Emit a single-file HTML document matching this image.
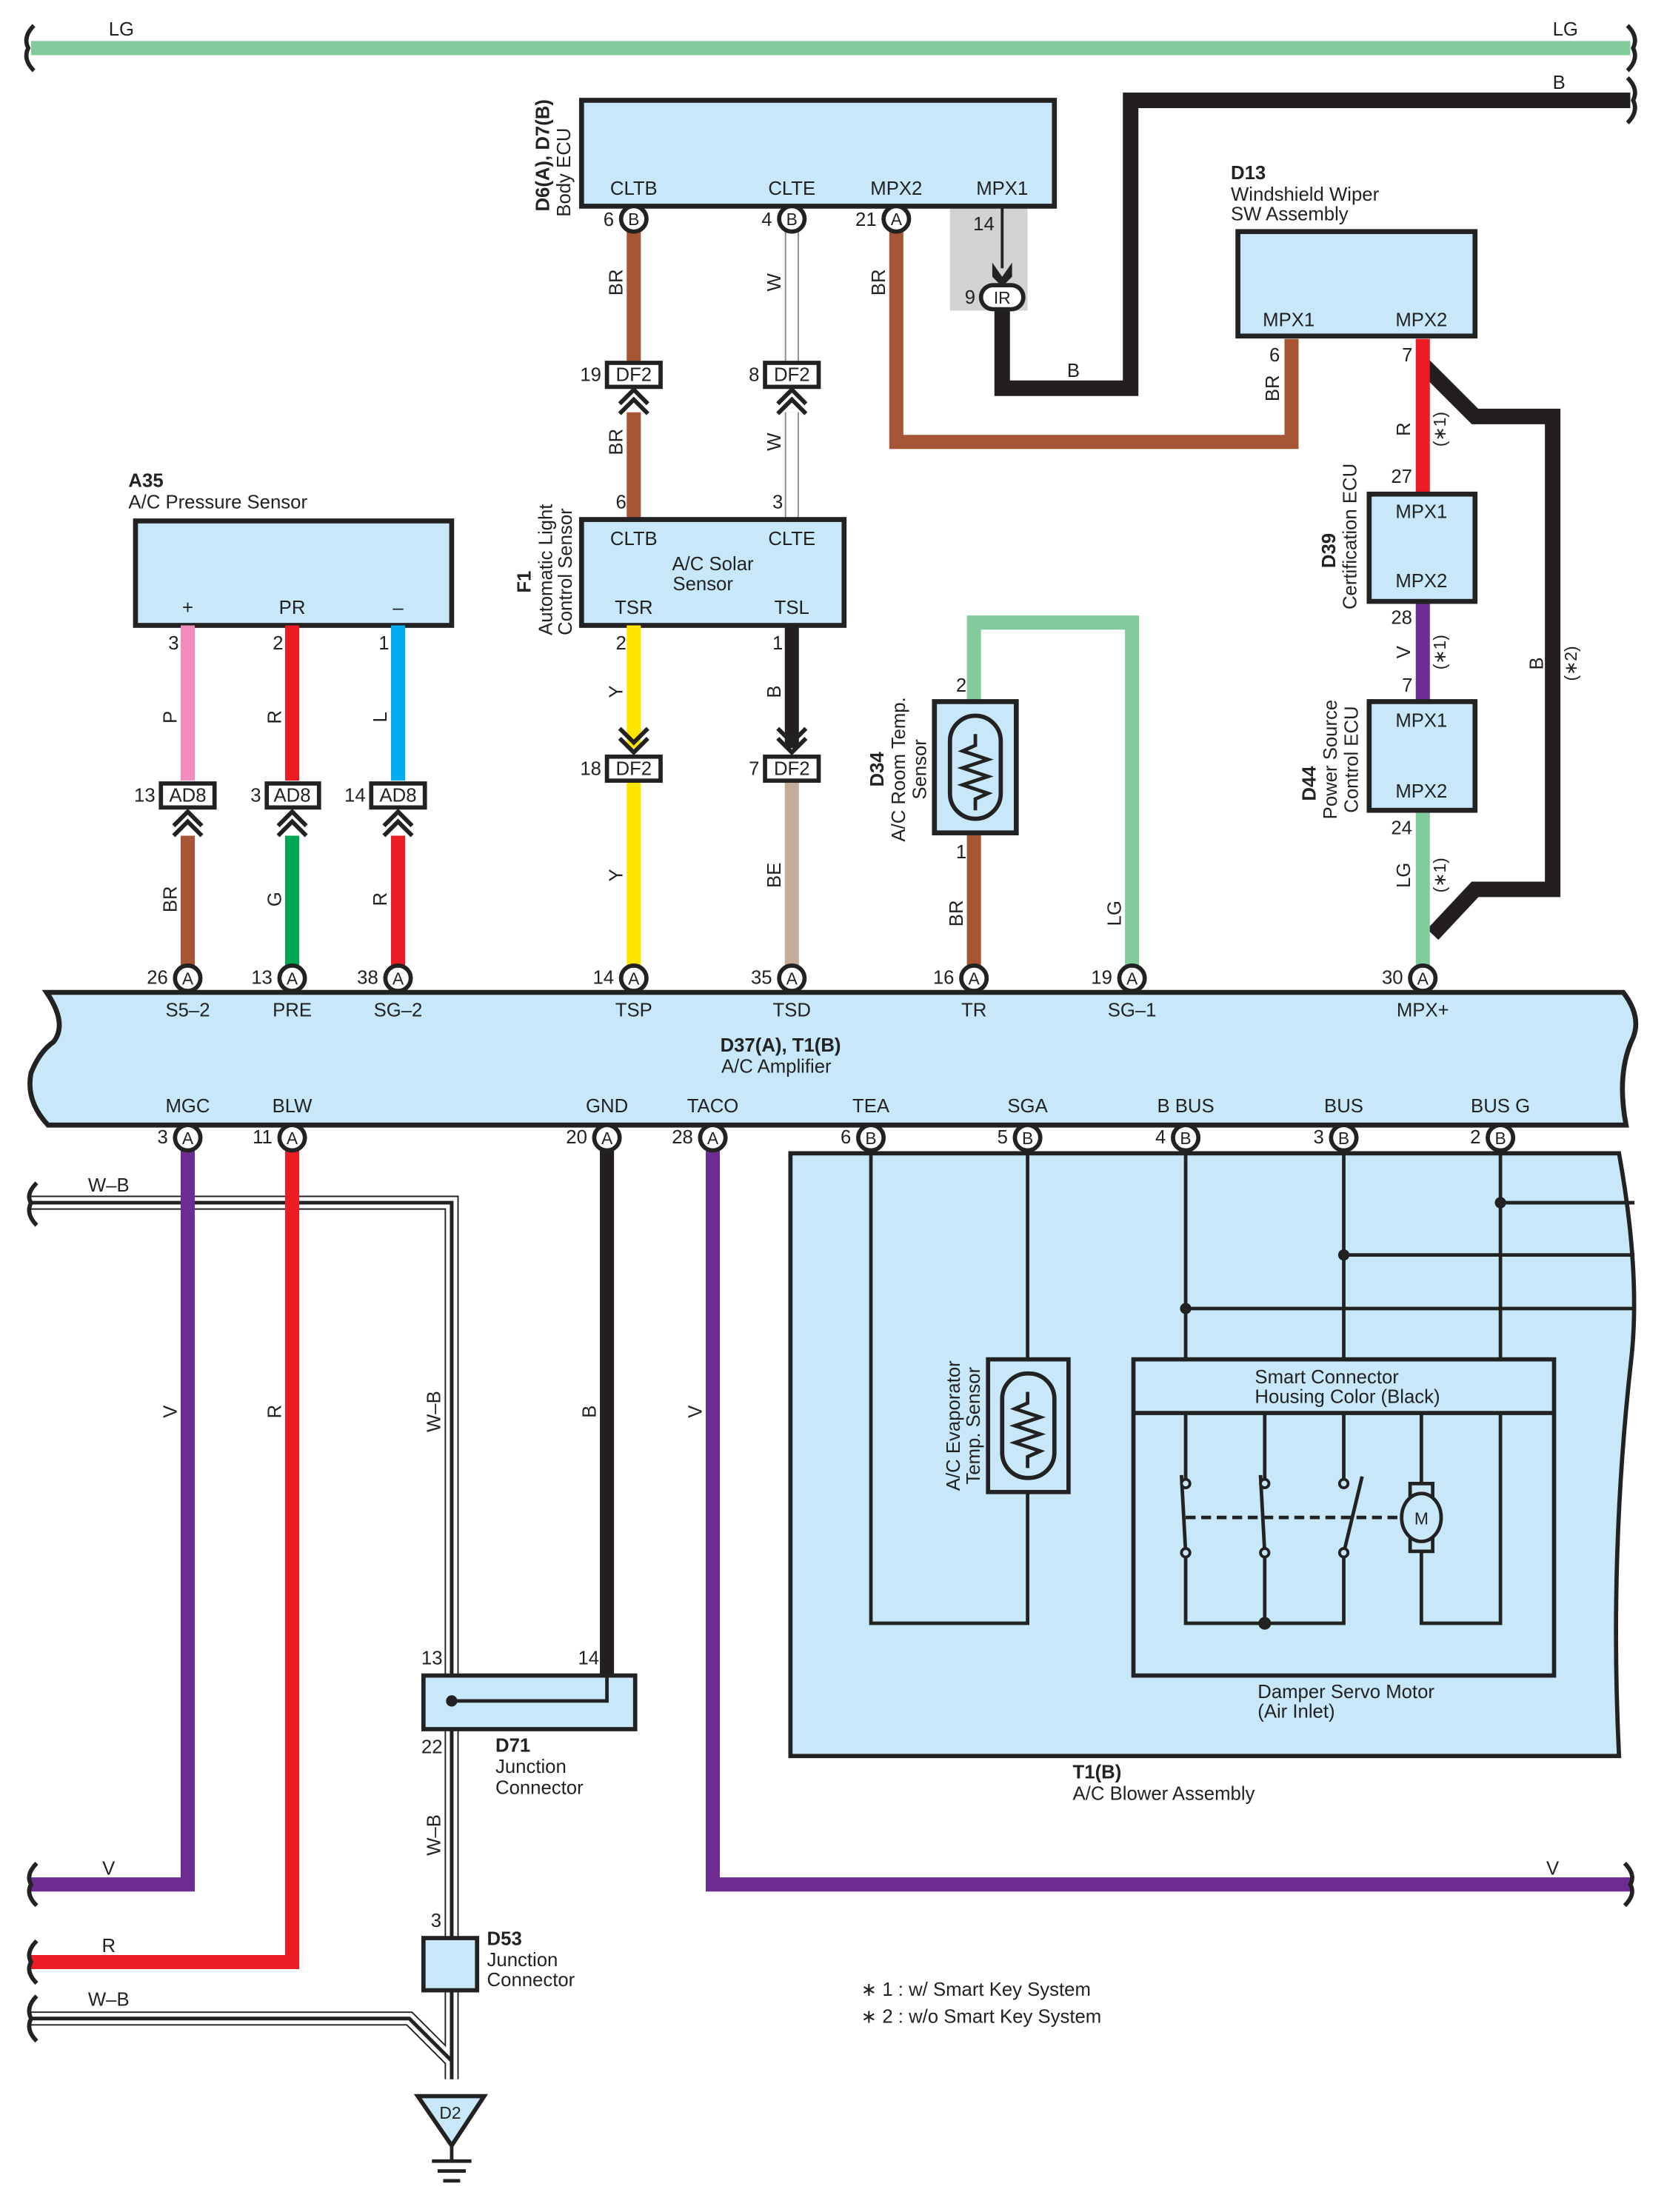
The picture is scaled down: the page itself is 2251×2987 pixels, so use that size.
<!DOCTYPE html>
<html><head><meta charset="utf-8"><style>
html,body{margin:0;padding:0;background:#fff}
svg{display:block}
text{font-family:"Liberation Sans",sans-serif;font-size:13.5px;fill:#222}
.b{font-weight:bold}
.m{text-anchor:middle}
.e{text-anchor:end}
</style></head><body>
<svg width="2251" height="2987" viewBox="0 0 1181 1567" xmlns="http://www.w3.org/2000/svg">
<defs>
<g id="pA"><circle r="9" fill="#fff" stroke="#222" stroke-width="3"/><text y="4.5" class="m" style="font-size:12px">A</text></g>
<g id="pB"><circle r="9" fill="#fff" stroke="#222" stroke-width="3"/><text y="4.5" class="m" style="font-size:12px">B</text></g>
<g id="chevUp" fill="none" stroke="#222" stroke-width="3"><path d="M-10,12 L0,2 L10,12"/><path d="M-10,19 L0,9 L10,19"/></g>
<g id="chevDn" fill="none" stroke="#222" stroke-width="3"><path d="M-10,-12 L0,-2 L10,-12"/><path d="M-10,-19 L0,-9 L10,-19"/></g>
</defs>
<g fill="none" stroke-linejoin="miter">
<!-- LG top -->
<path d="M22,34 H1155" stroke="#82cb9c" stroke-width="10"/>
<path d="M24,18 Q16,26 20,34 Q16,42 24,50" stroke="#222" stroke-width="3"/>
<path d="M1153,18 Q1161,26 1157,34 Q1161,42 1153,50" stroke="#222" stroke-width="3"/>
<!-- B black top -->
<path d="M710,214 V275 H801 V71 H1155" stroke="#231f20" stroke-width="11"/>
<path d="M1153,55 Q1161,63 1157,71 Q1161,79 1153,87" stroke="#222" stroke-width="3"/>
</g>
<text x="77" y="25">LG</text><text x="1100" y="25">LG</text>
<text x="1100" y="63">B</text><text x="756" y="267">B</text>
<!-- Body ECU -->
<rect x="673" y="146" width="55" height="74" fill="#d1d2d4"/>
<rect x="412" y="71" width="335" height="75" fill="#c8e8f9" stroke="#222" stroke-width="3.5"/>
<text x="449" y="138" class="m">CLTB</text><text x="561" y="138" class="m">CLTE</text><text x="635" y="138" class="m">MPX2</text><text x="710" y="138" class="m">MPX1</text>
<text transform="translate(389,110) rotate(-90)" class="b m">D6(A), D7(B)</text>
<text transform="translate(404,122) rotate(-90)" class="m">Body ECU</text>
<path d="M710,146 V190" stroke="#222" stroke-width="2"/>
<path d="M703,186 L710,196 L717,186 L717,196 L710,203 L703,196Z" fill="#222"/>
<rect x="695" y="202" width="30" height="17" rx="8.5" fill="#fff" stroke="#222" stroke-width="3"/>
<text x="710" y="215" class="m" style="font-size:12px">IR</text>
<text x="697" y="163" class="m">14</text><text x="691" y="215" class="e">9</text>
<!-- wires from body ECU -->
<g fill="none">
<path d="M449,163 V258 M449,292 V368" stroke="#a65634" stroke-width="10"/>
<path d="M561,163 V258 M561,292 V368" stroke="#8a8a8a" stroke-width="10"/>
<path d="M561,163 V258 M561,292 V368" stroke="#fff" stroke-width="8"/>
<path d="M635,163 V313 H915 V240" stroke="#a65634" stroke-width="10"/>
</g>
<use href="#pB" x="449" y="155"/><use href="#pB" x="561" y="155"/><use href="#pA" x="635" y="155"/>
<text x="435" y="160" class="e">6</text><text x="547" y="160" class="e">4</text><text x="621" y="160" class="e">21</text>
<text transform="translate(441,200) rotate(-90)" class="m">BR</text>
<text transform="translate(553,200) rotate(-90)" class="m">W</text>
<text transform="translate(627,200) rotate(-90)" class="m">BR</text>
<text transform="translate(441,313) rotate(-90)" class="m">BR</text>
<text transform="translate(553,313) rotate(-90)" class="m">W</text>
<rect x="430" y="257" width="38" height="17" fill="#fff" stroke="#222" stroke-width="3"/><text x="449" y="270" class="m">DF2</text>
<rect x="542" y="257" width="38" height="17" fill="#fff" stroke="#222" stroke-width="3"/><text x="561" y="270" class="m">DF2</text>
<use href="#chevUp" x="449" y="274"/><use href="#chevUp" x="561" y="274"/>
<text x="426" y="270" class="e">19</text><text x="538" y="270" class="e">8</text>
<text x="440" y="360" class="m">6</text><text x="551" y="360" class="m">3</text>
<!-- Solar sensor F1 -->
<rect x="412" y="368" width="186" height="75" fill="#c8e8f9" stroke="#222" stroke-width="3.5"/>
<text x="449" y="386" class="m">CLTB</text><text x="561" y="386" class="m">CLTE</text>
<text x="505" y="404" class="m">A/C Solar</text><text x="498" y="418" class="m">Sensor</text>
<text x="449" y="435" class="m">TSR</text><text x="561" y="435" class="m">TSL</text>
<text transform="translate(376,420) rotate(-90)" class="b">F1</text>
<text transform="translate(391,450) rotate(-90)">Automatic Light</text>
<text transform="translate(405,450) rotate(-90)">Control Sensor</text>
<g fill="none">
<path d="M449,443 V530 M449,553 V685" stroke="#ffe500" stroke-width="10"/>
<path d="M561,443 V530" stroke="#231f20" stroke-width="10"/>
<path d="M561,553 V685" stroke="#c3ad99" stroke-width="10"/>
</g>
<use href="#chevDn" x="449" y="535"/><use href="#chevDn" x="561" y="535"/>
<rect x="430" y="536" width="38" height="17" fill="#fff" stroke="#222" stroke-width="3"/><text x="449" y="549" class="m">DF2</text>
<rect x="542" y="536" width="38" height="17" fill="#fff" stroke="#222" stroke-width="3"/><text x="561" y="549" class="m">DF2</text>
<text x="426" y="549" class="e">18</text><text x="538" y="549" class="e">7</text>
<text x="440" y="460" class="m">2</text><text x="551" y="460" class="m">1</text>
<text transform="translate(441,490) rotate(-90)" class="m">Y</text>
<text transform="translate(553,490) rotate(-90)" class="m">B</text>
<text transform="translate(441,620) rotate(-90)" class="m">Y</text>
<text transform="translate(553,620) rotate(-90)" class="m">BE</text>
<!-- A35 -->
<rect x="96" y="369" width="224" height="74" fill="#c8e8f9" stroke="#222" stroke-width="3.5"/>
<text x="91" y="345" class="b">A35</text><text x="91" y="360">A/C Pressure Sensor</text>
<text x="133" y="435" class="m">+</text><text x="207" y="435" class="m">PR</text><text x="282" y="435" class="m">–</text>
<g fill="none" stroke-width="10">
<path d="M133,443 V553" stroke="#f18dbc"/><path d="M207,443 V553" stroke="#ec1c24"/><path d="M282,443 V553" stroke="#00aeef"/>
<path d="M133,592 V685" stroke="#a65634"/><path d="M207,592 V685" stroke="#00a651"/><path d="M282,592 V685" stroke="#ec1c24"/>
</g>
<text x="123" y="460" class="m">3</text><text x="197" y="460" class="m">2</text><text x="272" y="460" class="m">1</text>
<text transform="translate(125,508) rotate(-90)" class="m">P</text>
<text transform="translate(199,508) rotate(-90)" class="m">R</text>
<text transform="translate(274,508) rotate(-90)" class="m">L</text>
<rect x="114" y="555" width="38" height="17" fill="#fff" stroke="#222" stroke-width="3"/><text x="133" y="568" class="m">AD8</text>
<rect x="189" y="555" width="37" height="17" fill="#fff" stroke="#222" stroke-width="3"/><text x="207" y="568" class="m">AD8</text>
<rect x="263" y="555" width="38" height="17" fill="#fff" stroke="#222" stroke-width="3"/><text x="282" y="568" class="m">AD8</text>
<use href="#chevUp" x="133" y="573"/><use href="#chevUp" x="207" y="573"/><use href="#chevUp" x="282" y="573"/>
<text x="110" y="568" class="e">13</text><text x="185" y="568" class="e">3</text><text x="259" y="568" class="e">14</text>
<text transform="translate(125,637) rotate(-90)" class="m">BR</text>
<text transform="translate(199,637) rotate(-90)" class="m">G</text>
<text transform="translate(274,637) rotate(-90)" class="m">R</text>
<!-- D34 room temp -->
<g fill="none">
<path d="M690,497 V441 H802 V685" stroke="#82cb9c" stroke-width="10"/>
<path d="M690,590 V685" stroke="#a65634" stroke-width="10"/>
</g>
<rect x="662" y="497" width="58" height="93" fill="#c8e8f9" stroke="#222" stroke-width="3.5"/>
<rect x="673" y="507" width="36" height="73" rx="18" fill="none" stroke="#222" stroke-width="3"/>
<path d="M691,520 V528 L682,532 L700,538 L682,544 L700,550 L682,556 L700,562 L691,566 V574" fill="none" stroke="#222" stroke-width="2.5"/>
<text x="681" y="490" class="m">2</text><text x="681" y="608" class="m">1</text>
<text transform="translate(626,545) rotate(-90)" class="b m">D34</text>
<text transform="translate(641,545) rotate(-90)" class="m">A/C Room Temp.</text>
<text transform="translate(656,545) rotate(-90)" class="m">Sensor</text>
<text transform="translate(682,647) rotate(-90)" class="m">BR</text>
<text transform="translate(794,647) rotate(-90)" class="m">LG</text>
<!-- D13 / D39 / D44 -->
<g fill="none">
<path d="M1008,258 L1045,295 H1100 V630 H1045 L1015,662" stroke="#231f20" stroke-width="11"/>
<path d="M1008,240 V350" stroke="#ec1c24" stroke-width="10"/>
<path d="M1008,426 V497" stroke="#6d2c91" stroke-width="10"/>
<path d="M1008,574 V685" stroke="#82cb9c" stroke-width="10"/>
</g>
<rect x="877" y="164" width="168" height="74" fill="#c8e8f9" stroke="#222" stroke-width="3.5"/>
<text x="913" y="231" class="m">MPX1</text><text x="1007" y="231" class="m">MPX2</text>
<text x="872" y="127" class="b">D13</text><text x="872" y="142">Windshield Wiper</text><text x="872" y="156">SW Assembly</text>
<text x="903" y="256" class="m">6</text><text x="997" y="256" class="m">7</text>
<text transform="translate(906,275) rotate(-90)" class="m">BR</text>
<text transform="translate(999,304) rotate(-90)" class="m">R</text>
<text transform="translate(1024,304) rotate(-90)" class="m" style="font-size:12px">(∗1)</text>
<rect x="970" y="350" width="75" height="76" fill="#c8e8f9" stroke="#222" stroke-width="3.5"/>
<text x="1007" y="367" class="m">MPX1</text><text x="1007" y="416" class="m">MPX2</text>
<text x="993" y="342" class="m">27</text><text x="993" y="442" class="m">28</text>
<text transform="translate(946,390) rotate(-90)" class="b m">D39</text>
<text transform="translate(961,380) rotate(-90)" class="m">Certification ECU</text>
<text transform="translate(999,462) rotate(-90)" class="m">V</text>
<text transform="translate(1024,462) rotate(-90)" class="m" style="font-size:12px">(∗1)</text>
<text x="997" y="490" class="m">7</text>
<rect x="970" y="497" width="75" height="77" fill="#c8e8f9" stroke="#222" stroke-width="3.5"/>
<text x="1007" y="515" class="m">MPX1</text><text x="1007" y="565" class="m">MPX2</text>
<text x="993" y="591" class="m">24</text>
<text transform="translate(932,555) rotate(-90)" class="b m">D44</text>
<text transform="translate(947,538) rotate(-90)" class="m">Power Source</text>
<text transform="translate(962,538) rotate(-90)" class="m">Control ECU</text>
<text transform="translate(999,620) rotate(-90)" class="m">LG</text>
<text transform="translate(1024,620) rotate(-90)" class="m" style="font-size:12px">(∗1)</text>
<text transform="translate(1093,470) rotate(-90)" class="m">B</text>
<text transform="translate(1117,470) rotate(-90)" class="m" style="font-size:12px">(∗2)</text>
<!-- Amplifier -->
<path d="M33,703 H1150 Q1163,720 1157,735 Q1145,760 1152,797 H34 Q18,780 22,760 Q28,745 38,738 Q48,725 33,703 Z" fill="#c8e8f9" stroke="#222" stroke-width="3.5"/>
<g>
<text x="133" y="720" class="m">S5–2</text><text x="207" y="720" class="m">PRE</text><text x="282" y="720" class="m">SG–2</text>
<text x="449" y="720" class="m">TSP</text><text x="561" y="720" class="m">TSD</text><text x="690" y="720" class="m">TR</text>
<text x="802" y="720" class="m">SG–1</text><text x="1008" y="720" class="m">MPX+</text>
<text x="553" y="745" class="b m">D37(A), T1(B)</text><text x="550" y="760" class="m">A/C Amplifier</text>
<text x="133" y="788" class="m">MGC</text><text x="207" y="788" class="m">BLW</text><text x="430" y="788" class="m">GND</text>
<text x="505" y="788" class="m">TACO</text><text x="617" y="788" class="m">TEA</text><text x="728" y="788" class="m">SGA</text>
<text x="840" y="788" class="m">B BUS</text><text x="952" y="788" class="m">BUS</text><text x="1063" y="788" class="m">BUS G</text>
</g>
<use href="#pA" x="133" y="693"/><use href="#pA" x="207" y="693"/><use href="#pA" x="282" y="693"/>
<use href="#pA" x="449" y="693"/><use href="#pA" x="561" y="693"/><use href="#pA" x="690" y="693"/>
<use href="#pA" x="802" y="693"/><use href="#pA" x="1008" y="693"/>
<text x="119" y="697" class="e">26</text><text x="193" y="697" class="e">13</text><text x="268" y="697" class="e">38</text>
<text x="435" y="697" class="e">14</text><text x="547" y="697" class="e">35</text><text x="676" y="697" class="e">16</text>
<text x="788" y="697" class="e">19</text><text x="994" y="697" class="e">30</text>
<!-- Blower assembly -->
<path d="M560,817 H1147 Q1162,900 1156,960 Q1140,1100 1147,1244 H560 Z" fill="#c8e8f9" stroke="#222" stroke-width="3"/>
<g fill="none" stroke="#222" stroke-width="2.5">
<path d="M617,814 V1150 H728 V1057 M728,814 V963"/>
<path d="M840,814 V963 M952,814 V963 M1063,814 V963"/>
<path d="M840,927 H1158 M952,889 H1158 M1063,852 H1158"/>
<path d="M840,1001 V1050 M896,1001 V1050 M952,1001 V1050 M1007,1001 V1058"/>
<path d="M840,1100 V1150 H952 V1100 M896,1100 V1150 M1007,1092 V1150 H1063 V1001"/>
<path d="M837,1045 L840,1100 M893,1045 L896,1100 M965,1046 L952,1100"/>
<path d="M840,1075 H990" stroke-dasharray="7,4"/>
</g>
<g fill="#222"><circle cx="840" cy="927" r="4"/><circle cx="952" cy="889" r="4"/><circle cx="1063" cy="852" r="4"/><circle cx="896" cy="1150" r="4.5"/></g>
<g fill="#c8e8f9" stroke="#222" stroke-width="2"><circle cx="840" cy="1051" r="3"/><circle cx="896" cy="1051" r="3"/><circle cx="952" cy="1051" r="3"/><circle cx="840" cy="1100" r="3"/><circle cx="896" cy="1100" r="3"/><circle cx="952" cy="1100" r="3"/></g>
<rect x="999" y="1051" width="16" height="48" fill="#c8e8f9" stroke="#222" stroke-width="2.5"/>
<ellipse cx="1007" cy="1075" rx="14" ry="17" fill="#c8e8f9" stroke="#222" stroke-width="2.5"/>
<text x="1007" y="1080" class="m" style="font-size:12px">M</text>
<rect x="803" y="963" width="298" height="224" fill="none" stroke="#222" stroke-width="3"/>
<path d="M803,1001 H1101" stroke="#222" stroke-width="3"/>
<text x="889" y="980">Smart Connector</text><text x="889" y="994">Housing Color (Black)</text>
<text x="891" y="1203">Damper Servo Motor</text><text x="891" y="1217">(Air Inlet)</text>
<rect x="700" y="963" width="57" height="94" fill="#c8e8f9" stroke="#222" stroke-width="3"/>
<rect x="710" y="973" width="37" height="74" rx="18" fill="none" stroke="#222" stroke-width="3"/>
<path d="M728,986 V994 L719,998 L737,1004 L719,1010 L737,1016 L719,1022 L737,1028 L728,1032 V1040" fill="none" stroke="#222" stroke-width="2.5"/>
<text transform="translate(680,1010) rotate(-90)" class="m">A/C Evaporator</text>
<text transform="translate(694,1010) rotate(-90)" class="m">Temp.  Sensor</text>
<text x="760" y="1260" class="b">T1(B)</text><text x="760" y="1275">A/C Blower Assembly</text>
<!-- lower wires -->
<g fill="none">
<path d="M22,852 H320 V1473 M22,1430 H290 L320,1460" stroke="#222" stroke-width="10"/>
<path d="M22,852 H320 V1473 M22,1430 H290 L320,1460" stroke="#fff" stroke-width="8"/>
<path d="M22,852 H320 V1473 M22,1430 H290 L320,1460" stroke="#222" stroke-width="2.6"/>
<path d="M133,814 V1335 H22" stroke="#6d2c91" stroke-width="10"/>
<path d="M207,814 V1390 H22" stroke="#ec1c24" stroke-width="10"/>
<path d="M430,814 V1187" stroke="#231f20" stroke-width="10"/>
<path d="M505,814 V1335 H1155" stroke="#6d2c91" stroke-width="10"/>
<g stroke="#222" stroke-width="3">
<path d="M26,838 Q18,846 22,852 Q18,860 26,868"/>
<path d="M26,1320 Q18,1328 22,1335 Q18,1342 26,1350"/>
<path d="M26,1375 Q18,1383 22,1390 Q18,1397 26,1405"/>
<path d="M26,1414 Q18,1422 22,1430 Q18,1438 26,1446"/>
<path d="M1151,1320 Q1159,1328 1155,1335 Q1159,1342 1151,1350"/>
</g>
</g>
<use href="#pA" x="133" y="806"/><use href="#pA" x="207" y="806"/><use href="#pA" x="430" y="806"/><use href="#pA" x="505" y="806"/>
<use href="#pB" x="617" y="806"/><use href="#pB" x="728" y="806"/><use href="#pB" x="840" y="806"/><use href="#pB" x="952" y="806"/><use href="#pB" x="1063" y="806"/>
<text x="119" y="810" class="e">3</text><text x="193" y="810" class="e">11</text><text x="416" y="810" class="e">20</text><text x="491" y="810" class="e">28</text>
<text x="603" y="810" class="e">6</text><text x="714" y="810" class="e">5</text><text x="826" y="810" class="e">4</text><text x="938" y="810" class="e">3</text><text x="1049" y="810" class="e">2</text>
<text x="77" y="844" class="m">W–B</text><text x="77" y="1328" class="m">V</text><text x="77" y="1383" class="m">R</text><text x="77" y="1421" class="m">W–B</text><text x="1100" y="1328" class="m">V</text>
<text transform="translate(125,1000) rotate(-90)" class="m">V</text>
<text transform="translate(199,1000) rotate(-90)" class="m">R</text>
<text transform="translate(312,1000) rotate(-90)" class="m">W–B</text>
<text transform="translate(422,1000) rotate(-90)" class="m">B</text>
<text transform="translate(497,1000) rotate(-90)" class="m">V</text>
<text transform="translate(312,1300) rotate(-90)" class="m">W–B</text>
<!-- D71 -->
<rect x="300" y="1187" width="150" height="38" fill="#c8e8f9" stroke="#222" stroke-width="3"/>
<path d="M430,1187 V1205 H320" fill="none" stroke="#222" stroke-width="2.5"/>
<circle cx="320" cy="1205" r="4" fill="#222"/>
<text x="306" y="1179" class="m">13</text><text x="417" y="1179" class="m">14</text><text x="306" y="1242" class="m">22</text>
<text x="351" y="1241" class="b">D71</text><text x="351" y="1256">Junction</text><text x="351" y="1271">Connector</text>
<!-- D53 -->
<rect x="300" y="1373" width="38" height="37" fill="#c8e8f9" stroke="#222" stroke-width="3"/>
<text x="309" y="1365" class="m">3</text>
<text x="345" y="1378" class="b">D53</text><text x="345" y="1393">Junction</text><text x="345" y="1407">Connector</text>
<!-- ground D2 -->
<path d="M296,1485 H343 L320,1520 Z" fill="#c8e8f9" stroke="#222" stroke-width="3"/>
<text x="319" y="1501" class="m" style="font-size:12px">D2</text>
<path d="M320,1520 V1531 M306,1531 H334 M310,1538 H330 M314,1545 H326" stroke="#222" stroke-width="2.5"/>
<text x="610" y="1414">∗ 1 : w/ Smart Key System</text>
<text x="610" y="1433">∗ 2 : w/o Smart Key System</text>
</svg>
</body></html>
